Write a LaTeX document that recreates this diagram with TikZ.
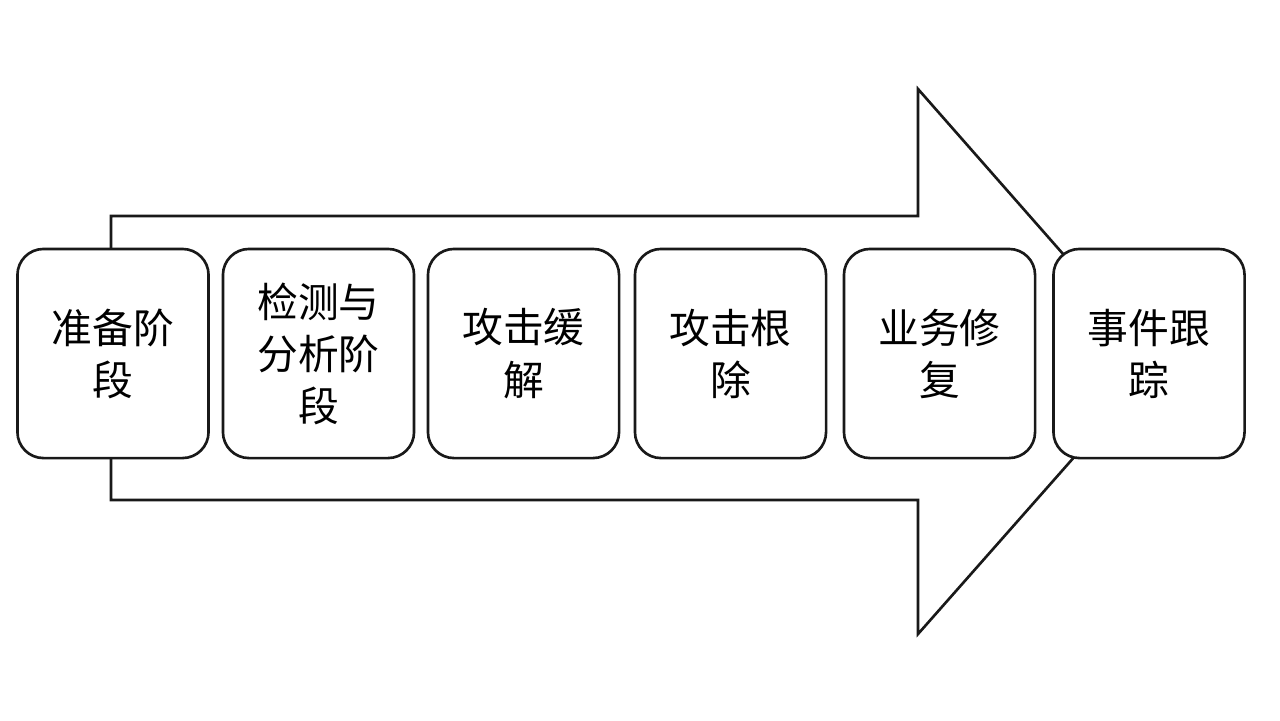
\documentclass[tikz,border=0pt]{standalone}
\usepackage{fontspec}
\newfontfamily\cjk{Noto Sans CJK SC}
\begin{document}
\begin{tikzpicture}[x=0.01cm,y=-0.01cm,
  stage/.style={draw=black!90,line width=0.75pt,fill=white,rounded corners=0.26cm,
    minimum width=1.91cm,minimum height=2.09cm,align=center,inner sep=0pt,
    font=\cjk\fontsize{11.6}{14.8}\selectfont},
  bigarrow/.style={draw=black!90,line width=0.75pt,fill=white}]
\useasboundingbox (0,0) rectangle (1280,720);
\fill[white] (0,0) rectangle (1280,720);
\draw[bigarrow] (111,216) -- (918,216) -- (918,89) -- (1158,362) -- (918,634) -- (918,500) -- (111,500) -- cycle;
\node[stage] (s1) at (113,353.5) {准备阶\\段};
\node[stage] (s2) at (318.5,353.5) {检测与\\分析阶\\段};
\node[stage] (s3) at (523.5,353.5) {攻击缓\\解};
\node[stage] (s4) at (730.5,353.5) {攻击根\\除};
\node[stage] (s5) at (939.5,353.5) {业务修\\复};
\node[stage] (s6) at (1149,353.5) {事件跟\\踪};
\end{tikzpicture}
\end{document}
